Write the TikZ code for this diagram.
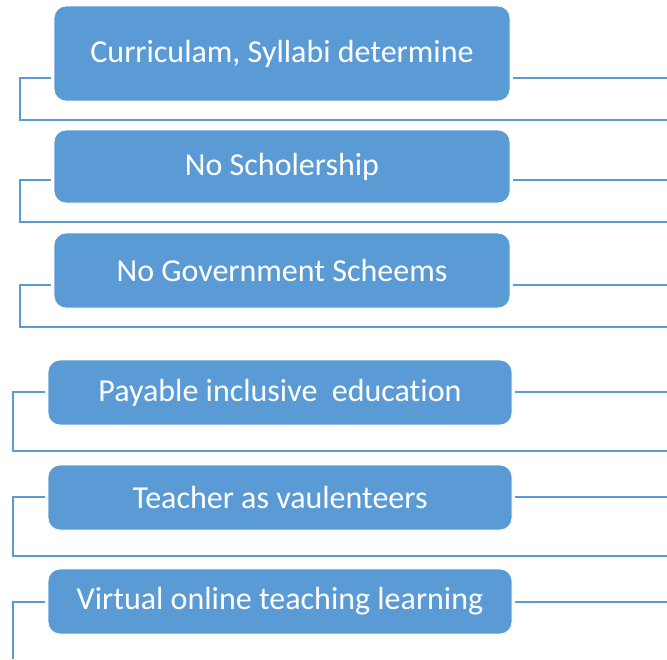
\documentclass[tikz,border=0pt]{standalone}
\usepackage{fontspec}
\setmainfont{Carlito}[Ligatures={NoCommon}]
\usetikzlibrary{positioning}
\definecolor{boxblue}{HTML}{5B9BD5}

\begin{document}
\begin{tikzpicture}[x=1pt,y=-1pt]
\tikzstyle{every node}=[font=\fontsize{32}{38}\selectfont]
\tikzstyle{item}=[draw=white, line width=0.8pt, fill=boxblue, text=white, rounded corners=12pt, inner sep=0pt]
\tikzstyle{link}=[draw=boxblue, line width=2.7pt]
\useasboundingbox (0,0) rectangle (667,659);

% upper group
\node[item, minimum width=456pt, minimum height=95pt] (curr) at (282,53.5) {Curriculam, Syllabi determine};
\node[item, minimum width=456pt, minimum height=73pt] (schol) at (282,166.5) {No Scholership};
\node[item, minimum width=456pt, minimum height=75pt] (govt) at (282,270.5) {No Government Scheems};

% lower group
\node[item, minimum width=464pt, minimum height=65pt] (pay) at (280,392.5) {Payable inclusive\ \ education};
\node[item, minimum width=464pt, minimum height=65pt] (teach) at (280,497.5) {Teacher as vaulenteers};
\node[item, minimum width=464pt, minimum height=65pt] (online) at (280,601.5) {Virtual online teaching learning};

% corners and ends of the brackets
\coordinate (curr-c) at (20,120);   \coordinate (curr-e) at (667,120);  \coordinate (curr-x) at (667,78);
\coordinate (schol-c) at (20,222);  \coordinate (schol-e) at (667,222); \coordinate (schol-x) at (667,180);
\coordinate (govt-c) at (20,327);   \coordinate (govt-e) at (667,327);  \coordinate (govt-x) at (667,285);
\coordinate (pay-c) at (13,451);    \coordinate (pay-e) at (667,451);   \coordinate (pay-x) at (667,392);
\coordinate (teach-c) at (13,556);  \coordinate (teach-e) at (667,556); \coordinate (teach-x) at (667,497);
\coordinate (online-c) at (13,659); \coordinate (online-x) at (667,602);

\draw[link] ([xshift=-3pt,yshift=-24.5pt]curr.west) -| (curr-c) -- (curr-e);
\draw[link] ([xshift=3pt,yshift=-24.5pt]curr.east) -- (curr-x);
\draw[link] ([xshift=-3pt,yshift=-13.5pt]schol.west) -| (schol-c) -- (schol-e);
\draw[link] ([xshift=3pt,yshift=-13.5pt]schol.east) -- (schol-x);
\draw[link] ([xshift=-3pt,yshift=-14.5pt]govt.west) -| (govt-c) -- (govt-e);
\draw[link] ([xshift=3pt,yshift=-14.5pt]govt.east) -- (govt-x);

\draw[link] ([xshift=-3pt,yshift=0.5pt]pay.west) -| (pay-c) -- (pay-e);
\draw[link] ([xshift=3pt,yshift=0.5pt]pay.east) -- (pay-x);
\draw[link] ([xshift=-3pt,yshift=0.5pt]teach.west) -| (teach-c) -- (teach-e);
\draw[link] ([xshift=3pt,yshift=0.5pt]teach.east) -- (teach-x);
\draw[link] ([xshift=-3pt,yshift=-0.5pt]online.west) -| (online-c);
\draw[link] ([xshift=3pt,yshift=-0.5pt]online.east) -- (online-x);
\end{tikzpicture}
\end{document}
